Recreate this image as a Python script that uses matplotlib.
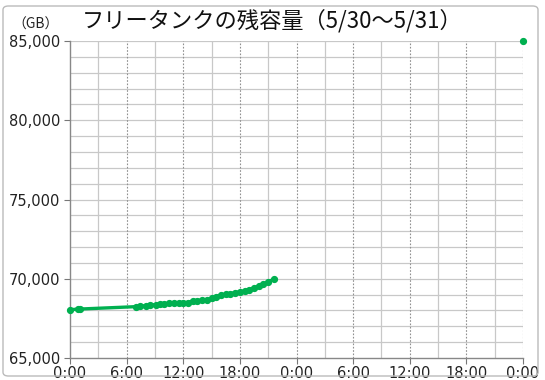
import matplotlib
matplotlib.use("Agg")
import matplotlib.pyplot as plt
from matplotlib.patches import FancyBboxPatch
import numpy as np

plt.rcParams['font.family'] = ['Noto Sans CJK JP', 'DejaVu Sans']

# hours since 5/30 0:00
hours = [0.0, 0.8, 1.1, 7.0, 7.4, 8.0, 8.5, 9.1, 9.5, 10.0, 10.5, 11.0, 11.5, 12.0,
         12.5, 13.0, 13.5, 14.0, 14.5, 15.0, 15.5, 16.0, 16.5, 17.0, 17.5, 18.0,
         18.5, 19.0, 19.5, 20.0, 20.5, 21.0, 21.6]
values = [68050, 68080, 68090, 68240, 68260, 68300, 68330, 68370, 68390, 68420,
          68440, 68460, 68480, 68500, 68500, 68600, 68620, 68650, 68680, 68760,
          68880, 68950, 69020, 69060, 69120, 69180, 69230, 69320, 69420, 69520,
          69640, 69820, 69960]
extra_hours = [48.0]
extra_values = [85000]
tick_labels = ["0:00", "6:00", "12:00", "18:00", "0:00", "6:00", "12:00", "18:00", "0:00"]

fig = plt.figure(figsize=(5.45, 3.8), dpi=100)
ax = fig.add_axes([70/545, 1-358/380, (523-70)/545, (358-41)/380])

green = '#00B050'
ax.plot(hours, values, color=green, lw=2.4, marker='o', ms=4.2, zorder=3, clip_on=False)
ax.plot(extra_hours, extra_values, color=green, lw=0, marker='o', ms=4.2, zorder=3, clip_on=False)

ax.set_xlim(0, 48)
ax.set_ylim(65000, 85000)

# grid
for y in np.arange(66000, 85001, 1000):
    ax.axhline(y, color='#c8c8c8', lw=0.9, zorder=1)
for x in np.arange(3, 48, 6):
    ax.axvline(x, color='#c8c8c8', lw=0.9, zorder=1)
for x in np.arange(6, 49, 6):
    ax.axvline(x, color='#909090', lw=0.8, ls=(0, (1.5, 1.5)), zorder=1)

ax.set_xticks(np.arange(0, 49, 6))
ax.set_xticklabels(tick_labels, family='DejaVu Sans')
ax.set_yticks(np.arange(65000, 85001, 5000))
ax.set_yticklabels([f"{v:,}" for v in range(65000, 85001, 5000)], family='DejaVu Sans')
ax.tick_params(axis='both', labelsize=10.5, colors='#777777', length=4, width=0.8,
               direction='out')
ax.tick_params(axis='x', pad=1.5)
ax.tick_params(axis='y', pad=3)
for lab in ax.get_xticklabels() + ax.get_yticklabels():
    lab.set_color('#222222')

for s in ['top', 'right']:
    ax.spines[s].set_visible(False)
for s in ['left', 'bottom']:
    ax.spines[s].set_color('#888888')
    ax.spines[s].set_linewidth(1.0)

fig.text(272/545, 1-21/380, "フリータンクの残容量（5/30〜5/31）", ha='center', va='center',
         fontsize=16, color='#111111')
fig.text(36/545, 1-25/380, "（GB）", ha='center', va='center', fontsize=10, color='#222222')

# border
fig.patches.append(FancyBboxPatch((3/545, 4/380), 535/545, 370/380,
                                  boxstyle="round,pad=0,rounding_size=0.01",
                                  transform=fig.transFigure, fill=False,
                                  ec='#bbbbbb', lw=1.0))

fig.savefig("out.png", dpi=100)
